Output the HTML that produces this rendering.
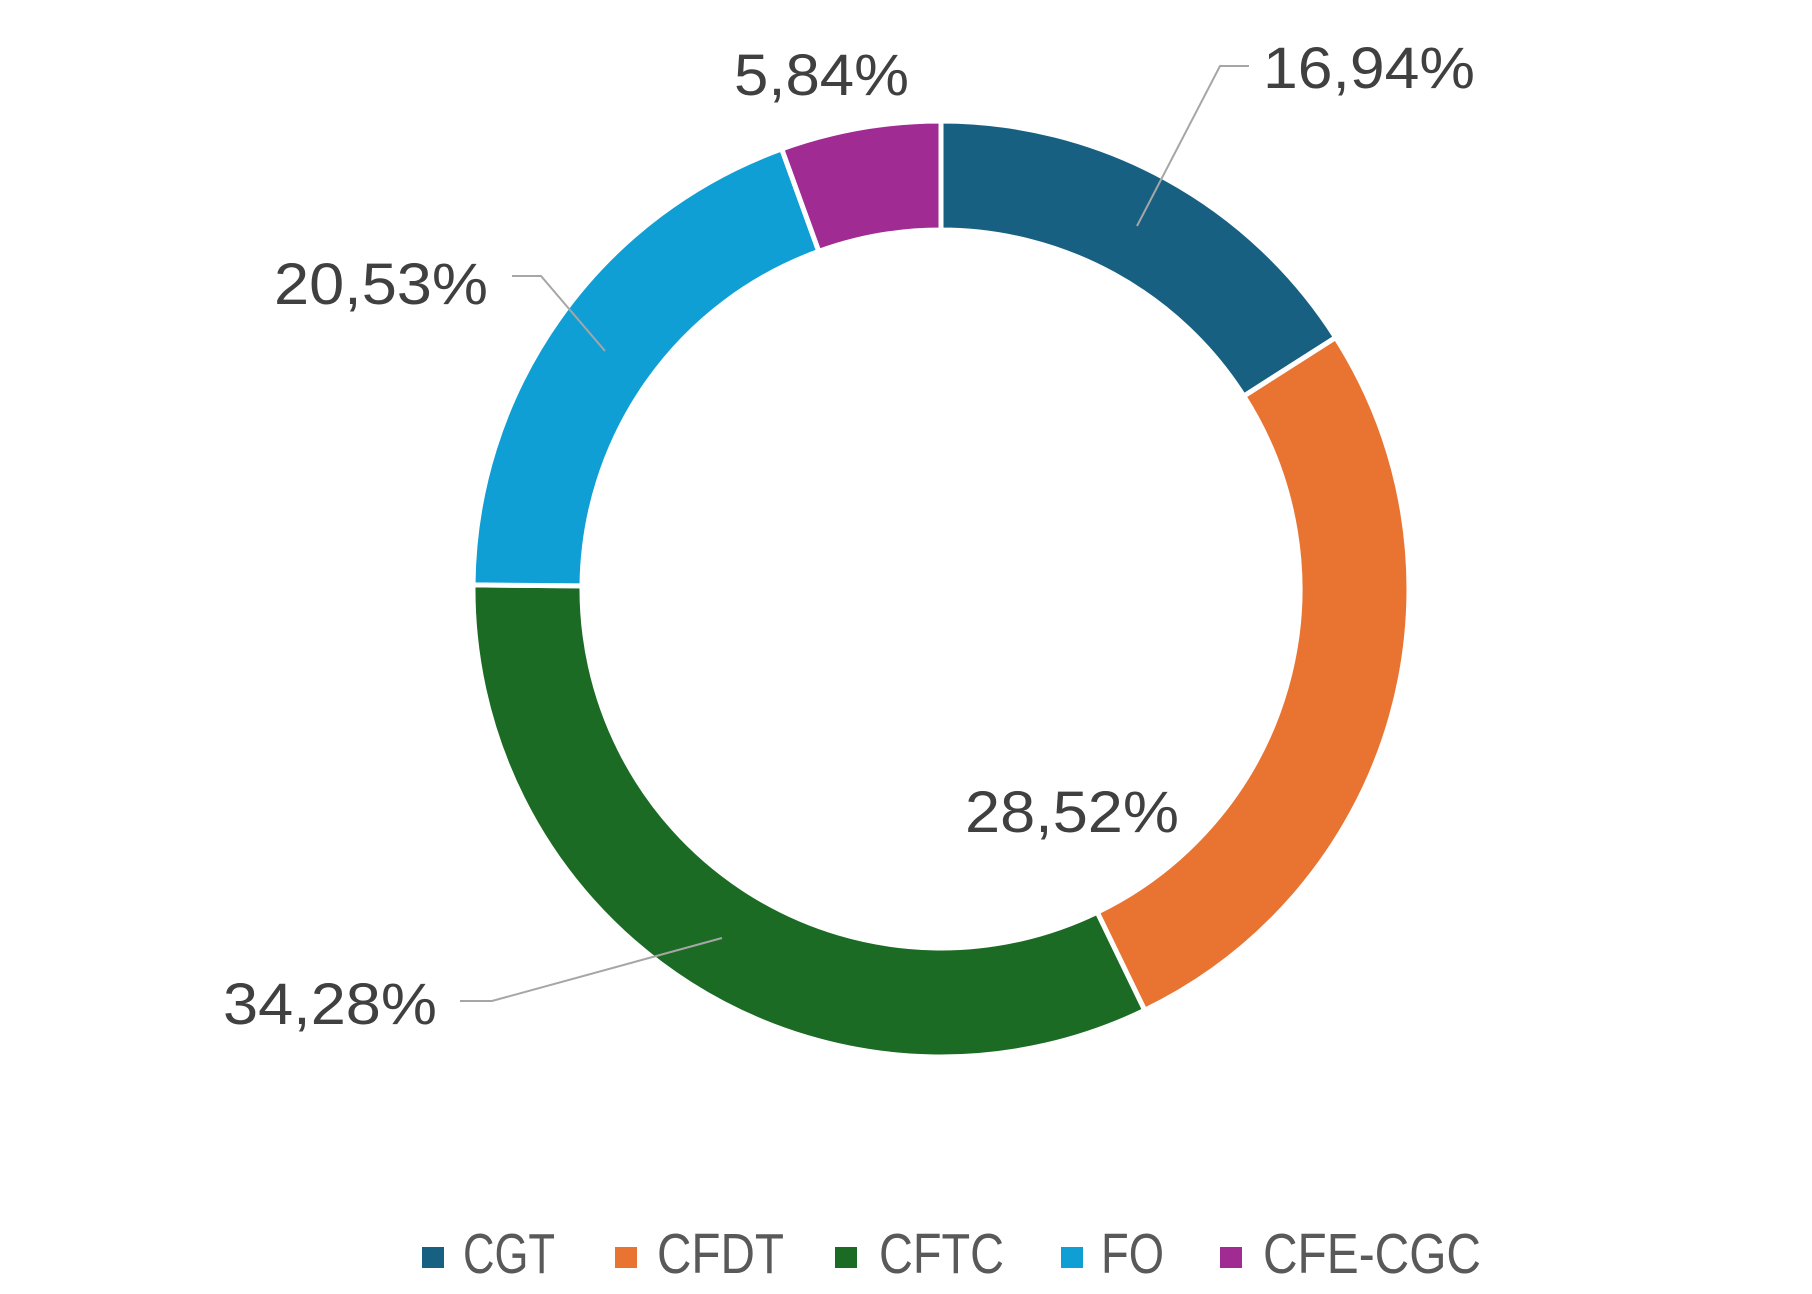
<!DOCTYPE html>
<html><head><meta charset="utf-8"><style>html,body{margin:0;padding:0;background:#fff}svg{display:block}</style></head>
<body>
<svg width="1812" height="1294" viewBox="0 0 1812 1294" xmlns="http://www.w3.org/2000/svg" font-family="Liberation Sans, sans-serif">
<rect width="1812" height="1294" fill="#fff"/>
<g stroke="#fff" stroke-width="5" stroke-linejoin="miter">
<path d="M941,121 A468,468 0 0 1 1335.7,337.5 L1243.8,396.1 A359,359 0 0 0 941,230 Z" fill="#176082"/>
<path d="M1335.7,337.5 A468,468 0 0 1 1144.7,1010.3 L1097.2,912.2 A359,359 0 0 0 1243.8,396.1 Z" fill="#E97432"/>
<path d="M1144.7,1010.3 A468,468 0 0 1 473,584.9 L582,585.9 A359,359 0 0 0 1097.2,912.2 Z" fill="#1C6B25"/>
<path d="M473,584.9 A468,468 0 0 1 781.7,148.9 L818.8,251.4 A359,359 0 0 0 582,585.9 Z" fill="#0F9FD5"/>
<path d="M781.7,148.9 A468,468 0 0 1 941,121 L941,230 A359,359 0 0 0 818.8,251.4 Z" fill="#A02B93"/>
</g>
<g stroke="#a6a6a6" stroke-width="2" fill="none">
<polyline points="1137,226 1220,66 1249,66"/>
<polyline points="605,351 541,276 512,276"/>
<polyline points="722,938 492,1001 460,1001"/>
</g>
<g fill="#404040" font-size="58">
<text x="734" y="95" textLength="175" lengthAdjust="spacingAndGlyphs">5,84%</text>
<text x="1263" y="88" textLength="212" lengthAdjust="spacingAndGlyphs">16,94%</text>
<text x="274" y="304" textLength="214" lengthAdjust="spacingAndGlyphs">20,53%</text>
<text x="965" y="832" textLength="214" lengthAdjust="spacingAndGlyphs">28,52%</text>
<text x="223" y="1024" textLength="214" lengthAdjust="spacingAndGlyphs">34,28%</text>
</g>
<rect x="422" y="1247" width="22" height="21" fill="#176082"/>
<rect x="615" y="1247" width="22" height="21" fill="#E97432"/>
<rect x="835" y="1247" width="22" height="21" fill="#1C6B25"/>
<rect x="1061" y="1247" width="22" height="21" fill="#0F9FD5"/>
<rect x="1220" y="1247" width="22" height="21" fill="#A02B93"/>
<g fill="#595959" font-size="57">
<text x="463" y="1273" textLength="92" lengthAdjust="spacingAndGlyphs">CGT</text>
<text x="657" y="1273" textLength="127" lengthAdjust="spacingAndGlyphs">CFDT</text>
<text x="879" y="1273" textLength="125" lengthAdjust="spacingAndGlyphs">CFTC</text>
<text x="1101" y="1273" textLength="63" lengthAdjust="spacingAndGlyphs">FO</text>
<text x="1263" y="1273" textLength="218" lengthAdjust="spacingAndGlyphs">CFE-CGC</text>
</g>
</svg>
</body></html>
